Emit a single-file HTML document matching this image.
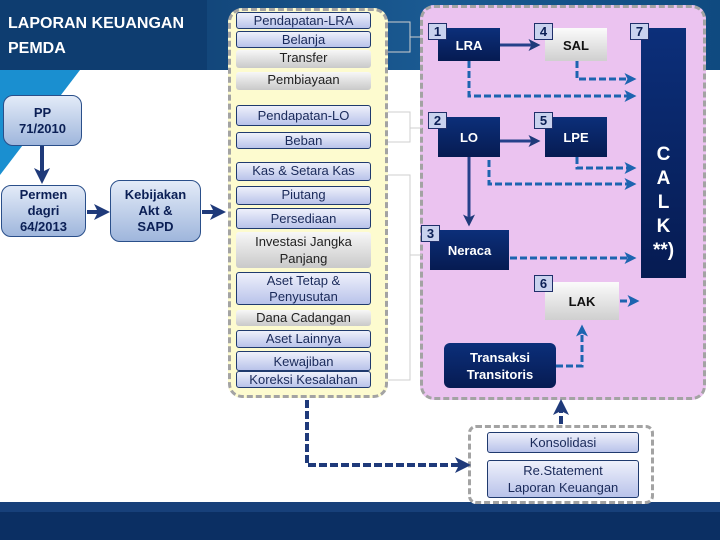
<!DOCTYPE html>
<html><head><meta charset="utf-8"><style>
*{margin:0;padding:0;box-sizing:border-box}
body{width:720px;height:540px;position:relative;overflow:hidden;background:#fff;font-family:"Liberation Sans",sans-serif}
.a{position:absolute}
.it{position:absolute;left:236px;width:135px;border:1px solid #1f3a6e;border-radius:3px;background:linear-gradient(#eef0fb,#b9c3ea);color:#1a2a5a;font-size:13px;text-align:center;line-height:16px}
.g{border:none;background:linear-gradient(#f7f7f7,#c9c9c9);color:#222}
.nv{position:absolute;background:linear-gradient(#0c2f7a,#061b52);color:#fff;font-weight:bold;font-size:13px;text-align:center}
.gr{position:absolute;background:linear-gradient(#fbfbfb,#cfcfcf);color:#111;font-weight:bold;font-size:13px;text-align:center}
.num{position:absolute;width:19px;height:17px;background:#c9d2ee;border:1px solid #1f2f6a;color:#0b1f55;font-weight:bold;font-size:13px;text-align:center;line-height:15px}
.lb{position:absolute;border:1px solid #2a4f8a;border-radius:10px;background:linear-gradient(#e3ebf8,#9fb6dc);color:#0b1f55;font-weight:bold;font-size:13px;text-align:center;display:flex;align-items:center;justify-content:center;line-height:16px}
</style></head><body>
<div class="a" style="left:0;top:0;width:720px;height:70px;background:linear-gradient(90deg,#0c3566,#1a5a92 60%,#0f4a80)"></div>
<div class="a" style="left:0;top:0;width:207px;height:70px;background:#0e3d70"></div>
<svg class="a" style="left:0;top:0" width="720" height="540">
<polygon points="0,70 80,70 0,175" fill="#1a8fd0"/>
<rect x="0" y="502" width="720" height="38" fill="#0b2f63"/>
<rect x="0" y="502" width="720" height="10" fill="#17407a"/>
</svg>
<div class="a" style="left:8px;top:11px;color:#fff;font-size:16px;font-weight:bold;line-height:25px">LAPORAN KEUANGAN<br>PEMDA</div>
<div class="a" style="left:228px;top:8px;width:160px;height:390px;background:#fdfbcf;border:3px dashed #a3a3a3;border-radius:14px"></div>
<div class="a" style="left:420px;top:5px;width:286px;height:395px;background:#ebc3f0;border:3px dashed #a3a3a3;border-radius:14px"></div>
<div class="a" style="left:468px;top:425px;width:186px;height:79px;background:#fff;border:3px dashed #a3a3a3;border-radius:8px"></div>
<div class="lb" style="left:3px;top:95px;width:79px;height:51px">PP<br>71/2010</div>
<div class="lb" style="left:1px;top:185px;width:85px;height:52px">Permen<br>dagri<br>64/2013</div>
<div class="lb" style="left:110px;top:180px;width:91px;height:62px">Kebijakan<br>Akt &amp;<br>SAPD</div>
<div class="it" style="top:12px;height:17px">Pendapatan-LRA</div>
<div class="it" style="top:31px;height:17px">Belanja</div>
<div class="it g" style="top:50px;height:18px">Transfer</div>
<div class="it g" style="top:72px;height:18px">Pembiayaan</div>
<div class="it" style="top:105px;height:21px;line-height:19px">Pendapatan-LO</div>
<div class="it" style="top:132px;height:17px">Beban</div>
<div class="it" style="top:162px;height:19px">Kas &amp; Setara Kas</div>
<div class="it" style="top:186px;height:19px">Piutang</div>
<div class="it" style="top:208px;height:21px;line-height:19px">Persediaan</div>
<div class="it g" style="top:232px;height:36px;line-height:17px;padding-top:1px">Investasi Jangka Panjang</div>
<div class="it" style="top:272px;height:33px;line-height:16px">Aset Tetap &amp; Penyusutan</div>
<div class="it g" style="top:310px;height:16px">Dana Cadangan</div>
<div class="it" style="top:330px;height:18px">Aset Lainnya</div>
<div class="it" style="top:351px;height:20px;line-height:19px">Kewajiban</div>
<div class="it" style="top:371px;height:17px">Koreksi Kesalahan</div>
<div class="nv" style="left:438px;top:28px;width:62px;height:33px;line-height:35px">LRA</div>
<div class="gr" style="left:545px;top:28px;width:62px;height:33px;line-height:35px">SAL</div>
<div class="nv" style="left:641px;top:28px;width:45px;height:250px;font-size:19px;line-height:24px;padding-top:115px">C<br>A<br>L<br>K<br>**)</div>
<div class="nv" style="left:438px;top:117px;width:62px;height:40px;line-height:42px">LO</div>
<div class="nv" style="left:545px;top:117px;width:62px;height:40px;line-height:42px">LPE</div>
<div class="nv" style="left:430px;top:230px;width:79px;height:40px;line-height:42px">Neraca</div>
<div class="gr" style="left:545px;top:282px;width:74px;height:38px;line-height:40px">LAK</div>
<div class="nv" style="left:444px;top:343px;width:112px;height:45px;line-height:17px;padding-top:6px;border-radius:6px">Transaksi<br>Transitoris</div>
<div class="num" style="left:428px;top:23px">1</div>
<div class="num" style="left:534px;top:23px">4</div>
<div class="num" style="left:630px;top:23px">7</div>
<div class="num" style="left:428px;top:112px">2</div>
<div class="num" style="left:534px;top:112px">5</div>
<div class="num" style="left:421px;top:225px">3</div>
<div class="num" style="left:534px;top:275px">6</div>
<div class="it" style="left:487px;top:432px;width:152px;height:21px;line-height:20px">Konsolidasi</div>
<div class="it" style="left:487px;top:460px;width:152px;height:38px;line-height:17px;padding-top:1px">Re.Statement<br>Laporan Keuangan</div>
<svg class="a" style="left:0;top:0" width="720" height="540">
<defs>
<marker id="m" markerWidth="4" markerHeight="4" refX="2.5" refY="2" orient="auto" markerUnits="strokeWidth"><path d="M0,0L4,2L0,4L1,2z" fill="#1f3a7a"/></marker>
<marker id="mb" markerWidth="4" markerHeight="4" refX="2.5" refY="2" orient="auto" markerUnits="strokeWidth"><path d="M0,0L4,2L0,4L1,2z" fill="#1c64b0"/></marker>
</defs>
<g stroke="#1f3a7a" stroke-width="4" fill="none">
<line x1="42" y1="146" x2="42" y2="178" marker-end="url(#m)"/>
<line x1="87" y1="212" x2="104" y2="212" marker-end="url(#m)"/>
<line x1="202" y1="212" x2="220" y2="212" marker-end="url(#m)"/>
</g>
<g stroke="#25408a" stroke-width="3" fill="none">
<line x1="500" y1="45" x2="536" y2="45" marker-end="url(#m)"/>
<line x1="500" y1="141" x2="536" y2="141" marker-end="url(#m)"/>
<line x1="469" y1="157" x2="469" y2="222" marker-end="url(#m)"/>
</g>
<g stroke="#1c64b0" stroke-width="3" fill="none" stroke-dasharray="7,3">
<polyline points="577,61 577,79 632,79" marker-end="url(#mb)"/>
<polyline points="469,61 469,96 632,96" marker-end="url(#mb)"/>
<polyline points="577,157 577,168 632,168" marker-end="url(#mb)"/>
<polyline points="489,160 489,184 632,184" marker-end="url(#mb)"/>
<line x1="510" y1="258" x2="632" y2="258" marker-end="url(#mb)"/>
<line x1="620" y1="301" x2="635" y2="301" marker-end="url(#mb)"/>
<polyline points="556,366 582,366 582,329" marker-end="url(#mb)"/>
</g>
<g stroke="#1f3a7a" stroke-width="4" fill="none" stroke-dasharray="8,3">
<polyline points="307,400 307,465 465,465" marker-end="url(#m)"/>
<line x1="561" y1="424" x2="561" y2="405" marker-end="url(#m)"/>
</g>
<g stroke="#cfcfcf" stroke-width="1" fill="none">
<path d="M388,22 h22 v30 h-22 M410,37 h12"/>
<path d="M388,112 h22 v30 h-22 M410,128 h12"/>
<path d="M388,175 h22 v205 h-22 M410,255 h12"/>
</g>
</svg>
</body></html>
